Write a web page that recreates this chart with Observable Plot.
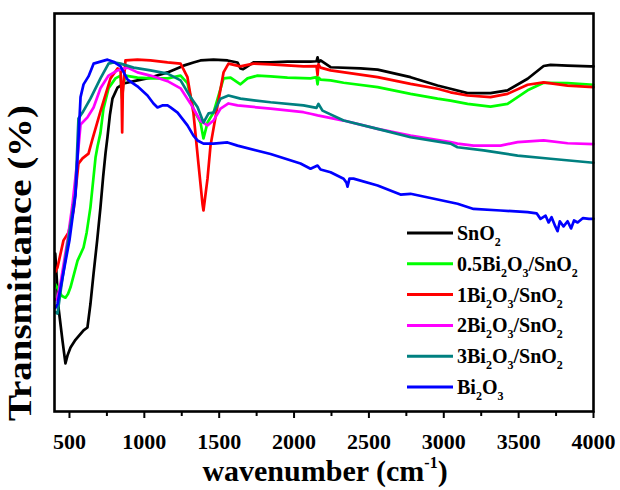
<!DOCTYPE html>
<html><head><meta charset="utf-8">
<script src="https://cdn.jsdelivr.net/npm/d3@7"></script>
<script src="https://cdn.jsdelivr.net/npm/@observablehq/plot@0.6"></script>
<style>body{margin:0;background:#fff}</style>
</head><body><div id="chart"></div>
<script>
const seriesNames = ["SnO2","0.5Bi2O3/SnO2","1Bi2O3/SnO2","2Bi2O3/SnO2","3Bi2O3/SnO2","Bi2O3"];
const seriesColors = ["#000000","#00ff00","#ff0000","#ff00ff","#008080","#0000ff"];

const snO2 = [[405,39.7],[427,26],[454,17.6],[473,12.1],[487,14.1],[507,16.1],[540,18],[594,20.4],[620,21.1],[640,27],[661,34.7],[685,43],[707,51.3],[725,59],[741,65],[754,69],[770,74.5],[787,78.6],[821,81.4],[861,82.4],[954,83.2],[1041,83.9],[1155,85.2],[1262,86.9],[1328,87.7],[1375,88.2],[1462,88.4],[1556,88.2],[1622,87.7],[1642,86.2],[1660,86],[1676,86.4],[1729,87.7],[1843,87.7],[1956,87.9],[2110,87.9],[2150,88],[2157,89],[2165,87.7],[2177,88.2],[2244,86.5],[2444,86.2],[2558,85.9],[2778,84],[2958,81.9],[3045,81.1],[3159,80],[3312,80],[3426,80.7],[3560,83.6],[3667,86.8],[3713,87.1],[3827,86.9],[3980,86.7],[4000,86.7]];

const bi05 = [[405,32],[420,31],[450,29],[473,28.6],[490,29.5],[507,31.2],[554,37.9],[594,41.2],[615,45],[640,51.3],[674,63.8],[687,66.5],[707,70],[727,76.1],[761,81.2],[807,83.7],[841,84.4],[848,80],[852,78.6],[858,82],[874,84.4],[954,83.9],[1041,83.7],[1155,83.7],[1242,84.4],[1288,82.5],[1328,76],[1375,72.6],[1395,68.6],[1422,72.6],[1462,75.1],[1496,79.4],[1529,83.7],[1576,83.9],[1642,82.2],[1689,83.7],[1756,84.4],[1843,84.2],[1956,83.9],[2110,83.7],[2150,84],[2157,82.2],[2163,83.9],[2177,83.4],[2244,83.2],[2331,82.6],[2558,81.5],[2778,79.8],[2958,78.6],[3045,78.1],[3159,77.3],[3312,76.6],[3426,77.3],[3560,80.7],[3667,82.6],[3827,82.5],[4000,82.1]];

const bi1 = [[405,35],[420,36.2],[460,43],[494,45],[527,50.5],[560,62.3],[587,63.6],[627,64.8],[654,68.5],[707,75.4],[774,83.7],[821,86.2],[841,85.7],[848,80],[852,70.1],[856,80],[874,88.2],[954,88.4],[1041,88.2],[1155,87.7],[1242,87.4],[1288,84],[1328,75],[1362,62],[1389,52],[1395,50.5],[1422,58.5],[1442,66.8],[1489,76.9],[1529,85.2],[1562,87.4],[1642,86.7],[1729,87.4],[1843,87.2],[2063,86.7],[2150,86.8],[2157,84.5],[2163,87.2],[2177,86.4],[2244,85.7],[2558,84],[2778,82.3],[2958,81.1],[3045,80.2],[3159,79.4],[3312,79],[3426,79.8],[3560,82.1],[3667,82.7],[3827,81.9],[4000,81.5]];

const bi2 = [[405,28],[420,28.5],[440,32.2],[487,43],[520,52],[554,63.8],[574,72.1],[620,73.9],[661,76.4],[707,81.2],[761,84.4],[821,85.7],[888,86.4],[954,85.2],[1041,84.4],[1155,83],[1242,81.2],[1308,77.4],[1375,73],[1422,71.9],[1462,73.1],[1509,76.1],[1562,77.4],[1622,76.9],[1843,76.1],[2063,75.2],[2110,74.8],[2157,74.4],[2331,73.1],[2558,71],[2778,69.3],[3045,67.7],[3092,67.3],[3199,66.8],[3379,66.8],[3493,67.7],[3667,68.1],[3827,67.4],[4000,67.2]];

const bi3 = [[405,25],[420,24.6],[440,30],[487,42],[540,55],[560,73.6],[587,75.1],[640,78.6],[707,83.7],[761,87.4],[794,87.7],[841,87.4],[928,86.4],[1041,85.7],[1155,84.9],[1242,83.2],[1308,79],[1355,76.5],[1395,72.6],[1429,74.9],[1462,75.1],[1509,78.6],[1562,79.4],[1642,78.6],[1843,77.7],[2063,76.9],[2150,76.3],[2163,77.3],[2190,75.6],[2331,73.1],[2558,71],[2778,68.9],[3045,67.3],[3092,66.4],[3266,65.6],[3493,64.3],[3713,63.5],[4000,62.5]];

const bi2o3 = [[405,26],[420,27],[460,35],[500,43],[540,54.3],[560,68.3],[574,79],[594,82.2],[627,84.2],[661,87.4],[707,87.9],[754,88.4],[794,87.9],[841,86.7],[888,83.4],[954,81.7],[1021,79.4],[1061,77.4],[1088,76.4],[1120,76.9],[1155,76.9],[1175,76.4],[1222,75.1],[1288,71.9],[1328,69.3],[1355,68.1],[1395,67.3],[1462,67.3],[1556,67.6],[1622,66.8],[1843,64.7],[2043,62.3],[2110,61],[2157,61.8],[2177,60.8],[2244,60.1],[2331,58.5],[2350,57.5],[2357,56.5],[2370,58.5],[2397,58.5],[2558,56.8],[2711,54.5],[2778,54.7],[3092,52.2],[3199,50.9],[3379,50.5],[3560,50.1],[3620,49.8],[3646,48.4],[3680,49.2],[3700,47.5],[3720,48.8],[3745,46.5],[3760,45.3],[3775,47.8],[3800,46.5],[3827,47.8],[3850,46],[3870,48],[3894,47.5],[3930,48.6],[3970,48.4],[4000,48.4]];

const xMajorTicks = [500,1000,1500,2000,2500,3000,3500,4000];
const xMinorTicks = [750,1250,1750,2250,2750,3250,3750];
const xLabelMain = "wavenumber (cm";
const xLabelSup = "-1";
const yLabel = "Transmittance (%)";

const allSeries = [snO2, bi05, bi1, bi2, bi3, bi2o3];
const rows = [];
allSeries.forEach((arr, i) => arr.forEach(([w, t]) => rows.push({series: seriesNames[i], w, t})));

const font = '"Liberation Serif", "Times New Roman", serif';
const plot = Plot.plot({
  width: 620, height: 490,
  marginLeft: 54, marginRight: 27, marginTop: 13, marginBottom: 79,
  style: {fontFamily: font, fontWeight: "bold", fontSize: "22px", background: "#fff", color: "#000", overflow: "visible"},
  x: {domain: [400, 4000]},
  y: {domain: [0, 100], axis: null},
  color: {domain: seriesNames, range: seriesColors},
  marks: [
    Plot.line(rows, {x: "w", y: "t", z: "series", stroke: "series", strokeWidth: 2.7, strokeLinejoin: "round"}),
    Plot.axisX({ticks: xMinorTicks, tickSize: 5, tickFormat: () => "", strokeWidth: 2, label: null}),
    Plot.axisX({ticks: xMajorTicks, tickSize: 7, tickPadding: 15, tickFormat: d => String(d), strokeWidth: 2, label: null}),
    Plot.frame({stroke: "#000", strokeWidth: 2.6})
  ]
});
document.getElementById("chart").appendChild(plot);

const svg = d3.select(plot);
// x label
const xl = svg.append("text").attr("x", 325).attr("y", 481).attr("text-anchor", "middle")
  .attr("font-family", font).attr("font-weight", "bold").attr("font-size", 30).attr("fill", "#000");
xl.append("tspan").text(xLabelMain);
xl.append("tspan").attr("font-size", 16).attr("dy", -13).text(xLabelSup);
xl.append("tspan").attr("dy", 13).text(")");
// y label (reference glyphs are stretched along the text direction)
svg.append("text").attr("transform", "translate(31,263) rotate(-90) scale(1.18,1)").attr("text-anchor", "middle")
  .attr("font-family", font).attr("font-weight", "bold").attr("font-size", 33)
  .attr("fill", "#000").text(yLabel);

// legend
const lg = svg.append("g").attr("font-family", font).attr("font-weight", "bold").attr("font-size", 20)
  .attr("text-anchor", "start");
seriesNames.forEach((name, i) => {
  const y = 233 + i * 30.8;
  lg.append("line").attr("x1", 407).attr("x2", 453).attr("y1", y).attr("y2", y)
    .attr("stroke", seriesColors[i]).attr("stroke-width", 3);
  const t = lg.append("text").attr("x", 457).attr("y", y + 7).attr("fill", "#000").attr("text-anchor", "start");
  const parts = name.split(/(?<=[A-Za-z])(\d)/);
  let sub = false;
  parts.forEach((p, k) => {
    if (p === "") return;
    const isSub = /^\d$/.test(p) && k % 2 === 1;
    const ts = t.append("tspan").text(p);
    if (isSub && !sub) { ts.attr("font-size", 12).attr("dy", 6); sub = true; }
    else if (!isSub && sub) { ts.attr("dy", -6); sub = false; }
    else if (isSub) ts.attr("font-size", 12);
  });
});
</script>
</body></html>
